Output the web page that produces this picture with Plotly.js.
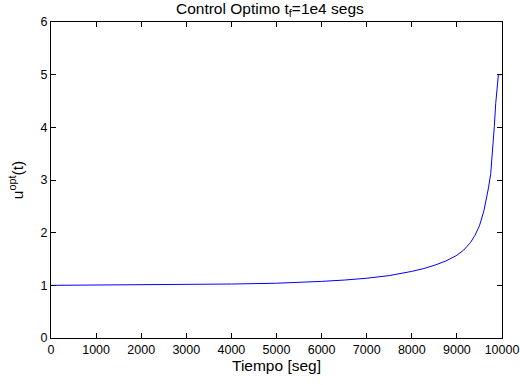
<!DOCTYPE html>
<html>
<head>
<meta charset="utf-8">
<script src="https://cdn.plot.ly/plotly-3.0.1.min.js"></script>
<style>html,body{margin:0;padding:0;background:#fff;}#chart{width:520px;height:385px;}</style>
</head>
<body>
<div id="chart"></div>
<script>
// Time samples [s] and optimal control values
const tiempo = [0, 1000, 2000, 3000, 4000, 5000, 5500, 6000, 6500, 7000, 7500, 7750, 8000, 8250, 8500, 8750, 9000, 9150, 9300, 9400, 9500, 9600, 9650, 9700, 9750, 9800, 9830, 9860, 9890, 9910, 9920, 10000];
const uOpt   = [1.0, 1.005, 1.01, 1.017, 1.025, 1.04, 1.055, 1.075, 1.10, 1.135, 1.185, 1.22, 1.265, 1.315, 1.38, 1.46, 1.57, 1.67, 1.81, 1.95, 2.13, 2.42, 2.62, 2.85, 3.12, 3.6, 4.02, 4.45, 4.75, 4.95, 5.0, 5.0];
const xTicks = [0, 1000, 2000, 3000, 4000, 5000, 6000, 7000, 8000, 9000, 10000];
const yTicks = [0, 1, 2, 3, 4, 5, 6];

const font = {family: 'Liberation Sans, Arial, sans-serif', color: '#000'};

const trace = {
  x: tiempo, y: uOpt, type: 'scatter', mode: 'lines',
  line: {color: '#0000ff', width: 1},
  hoverinfo: 'skip'
};

const axisCommon = {
  showline: true, linecolor: '#000', linewidth: 1, mirror: 'ticks',
  ticks: 'inside', ticklen: 5, tickwidth: 1, tickcolor: '#000',
  showgrid: false, zeroline: false, automargin: false,
  tickfont: Object.assign({size: 12.5}, font)
};

const layout = {
  width: 520, height: 385,
  margin: {l: 51, r: 18, t: 22, b: 47},
  paper_bgcolor: '#fff', plot_bgcolor: '#fff',
  showlegend: false,
  font: font,
  title: {
    text: 'Control Optimo t<sub>f</sub>=1e4 segs',
    font: Object.assign({size: 15.5}, font),
    x: 0.519, xanchor: 'center', y: 0.978, yanchor: 'middle', yref: 'container'
  },
  xaxis: Object.assign({}, axisCommon, {
    range: [0, 10000], tickvals: xTicks, ticktext: xTicks.map(String),
    title: {text: 'Tiempo [seg]', font: Object.assign({size: 15.5}, font), standoff: 3}
  }),
  yaxis: Object.assign({}, axisCommon, {
    range: [0, 6], tickvals: yTicks, ticktext: yTicks.map(String),
    title: {text: 'u<sup>opt</sup>(t)', font: Object.assign({size: 15.5}, font), standoff: 13}
  })
};

Plotly.newPlot('chart', [trace], layout, {staticPlot: true, displayModeBar: false});
</script>
</body>
</html>
